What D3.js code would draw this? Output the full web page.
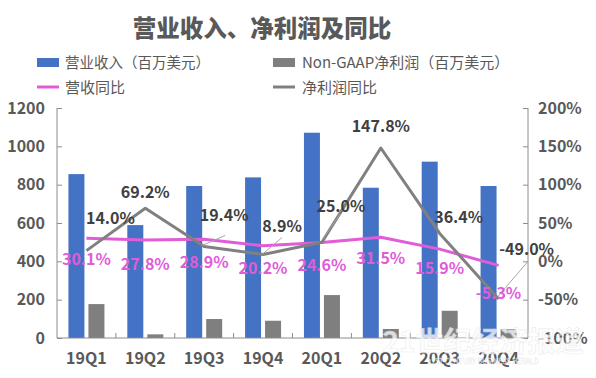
<!DOCTYPE html>
<html><head><meta charset="utf-8">
<script src="https://cdn.jsdelivr.net/npm/d3@7"></script>
<style>
html,body{margin:0;padding:0;background:#fff;}
svg text{font-family:"Noto Sans CJK SC","Noto Sans",sans-serif;}
</style></head>
<body><svg id="c" width="596" height="378"></svg>
<script>
const categories = ["19Q1","19Q2","19Q3","19Q4","20Q1","20Q2","20Q3","20Q4"];
const revenue = [855, 589, 793, 838, 1071, 784, 920, 793];
const netProfit = [177, 19, 99, 90, 224, 47, 142, 46];
const revenueYoY = [30.1, 27.8, 28.9, 20.2, 24.6, 31.5, 15.9, -5.3];
const netYoY = [14.0, 69.2, 19.4, 8.9, 25.0, 147.8, 36.4, -49.0];
const leftTicks = [0, 200, 400, 600, 800, 1000, 1200];
const rightTicks = [-100, -50, 0, 50, 100, 150, 200];

// label layout offsets (pixels, relative to point)
const netLabelOff = [[24,-33],[0,-16],[20,-31],[19,-29],[19,-36],[0,-22],[19,-16],[28,-50]];
const revLabelOff = [[0,21],[0,24],[0,23],[0,22],[0,23],[0,21],[0,19],[0,28]];
const netLeader = [null,null,[[-2,-1],[21,-11]],[[-1,0],[19,-17]],[[0,-2],[18,-28]],null,null,[[-1,-2],[29,-37]]];

const svg = d3.select("#c");
const L = 57, R = 528, T = 108, B = 338;
const x = d3.scaleBand().domain(categories).range([L, R]).padding(0);
const x1 = d3.scaleBand().domain(["rev","net"]).range([-18, 18]).paddingInner(0.2);
const y = d3.scaleLinear().domain([0, 1200]).range([B, T]);
const y2 = d3.scaleLinear().domain([-100, 200]).range([B, T]);
const cx = c => x(c) + x.bandwidth()/2;

const BLUE = "#4472C4", GRAY = "#7F7F7F", PINK = "#E05CD8", TXT = "#595959", AX = "#8C8C8C";

// title
svg.append("text").attr("x", 262).attr("y", 37).attr("text-anchor","middle")
  .attr("font-size", 23.5).attr("font-weight","900").attr("fill", TXT).text("营业收入、净利润及同比");

// legend
const lg = svg.append("g");
lg.append("rect").attr("x",37).attr("y",58).attr("width",22).attr("height",9).attr("fill",BLUE);
lg.append("text").attr("x",65).attr("y",68).attr("font-size",14.5).attr("fill",TXT).text("营业收入（百万美元）");
lg.append("rect").attr("x",273).attr("y",58).attr("width",22).attr("height",9).attr("fill",GRAY);
lg.append("text").attr("x",302).attr("y",68).attr("font-size",15).attr("fill",TXT).text("Non-GAAP净利润（百万美元）");
lg.append("line").attr("x1",37).attr("x2",59).attr("y1",87).attr("y2",87).attr("stroke",PINK).attr("stroke-width",3);
lg.append("text").attr("x",65).attr("y",93).attr("font-size",15).attr("fill",TXT).text("营收同比");
lg.append("line").attr("x1",273).attr("x2",295).attr("y1",87).attr("y2",87).attr("stroke",GRAY).attr("stroke-width",3);
lg.append("text").attr("x",302).attr("y",93).attr("font-size",15).attr("fill",TXT).text("净利润同比");

// bars
const g = svg.append("g");
g.selectAll("rect.rev").data(categories).join("rect").attr("class","rev")
  .attr("x", (c) => cx(c) + x1("rev")).attr("width", x1.bandwidth())
  .attr("y", (c,i) => y(revenue[i])).attr("height", (c,i) => y(0) - y(revenue[i])).attr("fill", BLUE);
g.selectAll("rect.net").data(categories).join("rect").attr("class","net")
  .attr("x", (c) => cx(c) + x1("net")).attr("width", x1.bandwidth())
  .attr("y", (c,i) => y(netProfit[i])).attr("height", (c,i) => y(0) - y(netProfit[i])).attr("fill", GRAY);

// axes
const axL = svg.append("g").attr("transform",`translate(${L},0)`)
  .call(d3.axisRight(y).tickValues(leftTicks).tickSize(5).tickFormat(""));
const axR = svg.append("g").attr("transform",`translate(${R},0)`)
  .call(d3.axisLeft(y2).tickValues(rightTicks).tickSize(5).tickFormat(""));
[axL, axR].forEach(a => { a.selectAll("path,line").attr("stroke", AX); });
axL.select("path").attr("d", `M0,${T}V${B}`);
axR.select("path").attr("d", `M0,${T}V${B}`);
// tick labels
svg.append("g").selectAll("text").data(leftTicks).join("text")
  .attr("x", 45).attr("y", d => y(d) + 5.5).attr("text-anchor","end")
  .attr("font-size",16).attr("font-weight","bold").attr("fill",TXT).text(d => d);
svg.append("g").selectAll("text").data(rightTicks).join("text")
  .attr("x", 538).attr("y", d => y2(d) + 5.5).attr("text-anchor","start")
  .attr("font-size",16).attr("font-weight","bold").attr("fill",TXT).text(d => d + "%");
// bottom axis
const bx = svg.append("g").attr("transform",`translate(0,${B})`);
bx.append("line").attr("x1",L).attr("x2",R).attr("stroke",AX);
bx.selectAll("line.t").data(categories.slice(1)).join("line").attr("class","t")
  .attr("x1", c => x(c)).attr("x2", c => x(c)).attr("y1",0).attr("y2",-5).attr("stroke",AX);
bx.selectAll("text").data(categories).join("text")
  .attr("x", c => cx(c)).attr("y", 26).attr("text-anchor","middle")
  .attr("font-size",16).attr("font-weight","bold").attr("fill",TXT).text(c => c);

// lines
const lineGen = d3.line().x((d,i) => cx(categories[i])).y(d => y2(d));
svg.append("path").datum(revenueYoY).attr("d", lineGen).attr("fill","none")
  .attr("stroke", PINK).attr("stroke-width", 3).attr("stroke-linejoin","round");
svg.append("path").datum(netYoY).attr("d", lineGen).attr("fill","none")
  .attr("stroke", "#808080").attr("stroke-width", 3).attr("stroke-linejoin","round");

// leader lines
netYoY.forEach((v,i) => {
  const ld = netLeader[i]; if (!ld) return;
  const px = cx(categories[i]), py = y2(v);
  svg.append("line").attr("x1", px+ld[0][0]).attr("y1", py+ld[0][1])
    .attr("x2", px+ld[1][0]).attr("y2", py+ld[1][1]).attr("stroke","#A6A6A6").attr("stroke-width",1);
});

// data labels
svg.append("g").selectAll("text").data(netYoY).join("text")
  .attr("x", (d,i) => cx(categories[i]) + netLabelOff[i][0])
  .attr("y", (d,i) => y2(d) + netLabelOff[i][1] + 6)
  .attr("text-anchor","middle").attr("font-size",16).attr("font-weight","bold").attr("fill","#404040")
  .text(d => d.toFixed(1) + "%");
svg.append("g").selectAll("text").data(revenueYoY).join("text")
  .attr("x", (d,i) => cx(categories[i]) + revLabelOff[i][0])
  .attr("y", (d,i) => y2(d) + revLabelOff[i][1] + 6)
  .attr("text-anchor","middle").attr("font-size",16).attr("font-weight","bold").attr("fill",PINK)
  .text(d => d.toFixed(1) + "%");

// watermark
const wm = svg.append("g").attr("opacity",0.75);
wm.append("text").attr("x", 483).attr("y", 352).attr("text-anchor","middle").attr("font-size",28)
  .attr("font-weight","bold").attr("fill","#fff").attr("stroke","#e6e6e6").attr("stroke-width",0.6).text("21世纪经济报道");
wm.append("text").attr("x", 483).attr("y", 364).attr("text-anchor","middle").attr("font-size",7)
  .attr("fill","#fff").attr("stroke","#e0e0e0").attr("stroke-width",0.3).text("21ST CENTURY BUSINESS HERALD");
</script></body></html>
